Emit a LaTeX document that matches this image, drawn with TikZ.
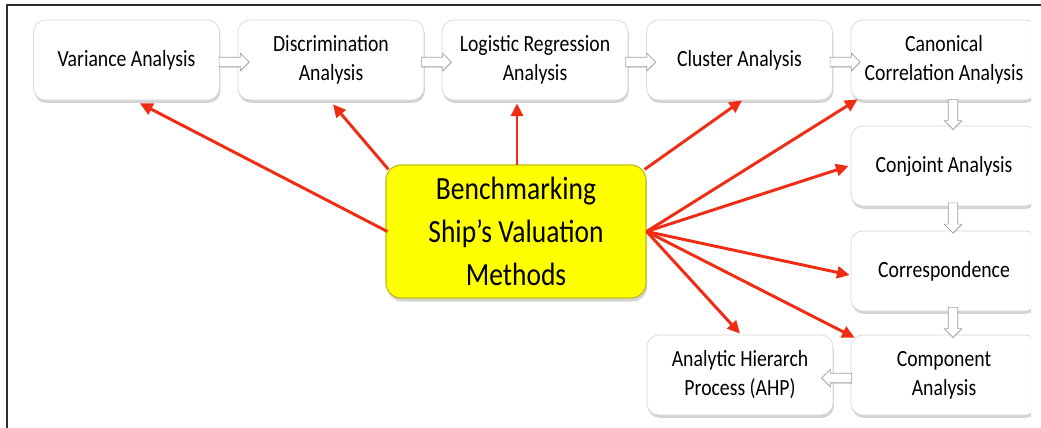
\documentclass[tikz,border=0pt]{standalone}
\usepackage{fontspec}
\setmainfont{Carlito}
\newfontfamily\labelfont[FakeStretch=0.85]{Carlito}
\usetikzlibrary{shapes.arrows,shadows,calc,arrows.meta}
\definecolor{linkred}{RGB}{240,45,20}
\definecolor{hubfill}{RGB}{255,255,0}
\definecolor{hubedge}{RGB}{190,190,20}
\definecolor{framegray}{RGB}{45,45,45}
\definecolor{boxedge}{RGB}{215,215,215}
\definecolor{flowedge}{RGB}{160,160,160}

\begin{document}
\begin{tikzpicture}[x=0.025cm,y=-0.025cm,
  methodbox/.style={rectangle, rounded corners=0.3cm, minimum width=4.65cm,
    minimum height=2cm, fill=white, draw=boxedge, line width=0.5pt,
    align=center, text=black,
    font=\labelfont\fontsize{16.5}{20.6}\selectfont,
    drop shadow={shadow xshift=0.6pt, shadow yshift=-2pt, opacity=0.35}},
  hubbox/.style={rectangle, rounded corners=0.38cm, minimum width=6.5cm,
    minimum height=3.325cm, fill=hubfill, draw=hubedge, line width=0.8pt,
    align=center, text=black,
    font=\labelfont\fontsize{23}{30.6}\selectfont,
    drop shadow={shadow xshift=0.8pt, shadow yshift=-2.5pt, opacity=0.35}},
  flowarrow/.style={single arrow, fill=white, draw=flowedge, line width=0.5pt,
    minimum height=0.75cm, inner sep=0.11cm,
    single arrow head extend=0.1cm,
    drop shadow={shadow xshift=0.3pt, shadow yshift=-0.8pt, opacity=0.25}},
  link/.style={draw=linkred, line width=2.1pt,
    -{Triangle[length=9pt,width=8.5pt]}}]

\useasboundingbox (0,0) rectangle (1041,428);

% outer frame (top and left edges)
\draw[framegray, line width=1.4pt] (7,428) -- (7,5) -- (1041,5);

\begin{scope}
\clip (0,0) rectangle (1031,428);

% method boxes
\node[methodbox] (var)   at (126.5,60) {Variance Analysis};
\node[methodbox] (disc)  at (331,60)   {Discrimination\\Analysis};
\node[methodbox] (logit) at (535,60)   {Logistic Regression\\Analysis};
\node[methodbox] (clus)  at (739.5,60) {Cluster Analysis};
\node[methodbox] (canon) at (944,60)   {Canonical\\Correlation Analysis};
\node[methodbox] (conj)  at (944,166)  {Conjoint Analysis};
\node[methodbox] (corr)  at (944,271)  {Correspondence};
\node[methodbox] (comp)  at (944,375)  {Component\\Analysis};
\node[methodbox] (ahp)   at (740,375)  {Analytic Hierarch\\Process (AHP)};

% flow arrows between consecutive boxes
\node[flowarrow] (f1) at ($($(var.east)!0.5!(disc.west)$)+(3,2)$) {};
\node[flowarrow] (f2) at ($($(disc.east)!0.5!(logit.west)$)+(1,2)$) {};
\node[flowarrow] (f3) at ($($(logit.east)!0.5!(clus.west)$)+(1,2)$) {};
\node[flowarrow] (f4) at ($($(clus.east)!0.5!(canon.west)$)+(1,2)$) {};
\node[flowarrow, shape border rotate=270] (f5)
  at ($($(canon.south)!0.5!(conj.north)$)+(9,-1)$) {};
\node[flowarrow, shape border rotate=270] (f6)
  at ($($(conj.south)!0.5!(corr.north)$)+(9,-3)$) {};
\node[flowarrow, shape border rotate=270] (f7)
  at ($($(corr.south)!0.5!(comp.north)$)+(9,-3)$) {};
\node[flowarrow, shape border rotate=180] (f8)
  at ($($(ahp.east)!0.5!(comp.west)$)+(-3,3)$) {};

% central topic
\node[hubbox] (hub) at (516,231.5) {Benchmarking\\Ship’s Valuation\\Methods};

% links from the central topic to each method
\draw[link] ($(hub.west)+(2,0)$) -- ($(var.south)+(13.5,3)$);
\draw[link] ($(hub.north west)+(3,5)$) -- ($(disc.south)+(2,4)$);
\draw[link] ($(hub.north)+(1,1)$) -- ($(logit.south)+(-18,3)$);
\draw[link] ($(hub.north east)+(-2,5)$) -- ($(clus.south)+(2.5,0)$);
\draw[link] (hub.east) -- ($(canon.south west)+(7,-1)$);
\draw[link] (hub.east) -- ($(conj.west)+(-2,0)$);
\draw[link] (hub.east) -- ($(corr.west)+(-1,4)$);
\draw[link] (hub.east) -- ($(comp.north west)+(4,3)$);
\draw[link] (hub.east) -- ($(ahp.north)+(0,-1)$);
\end{scope}
\end{tikzpicture}
\end{document}
